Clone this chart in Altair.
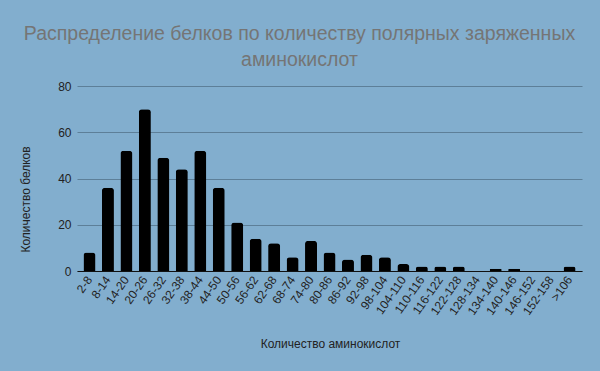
import altair as alt
import pandas as pd

categories = ["2-8", "8-14", "14-20", "20-26", "26-32", "32-38", "38-44", "44-50",
              "50-56", "56-62", "62-68", "68-74", "74-80", "80-86", "86-92", "92-98",
              "98-104", "104-110", "110-116", "116-122", "122-128", "128-134",
              "134-140", "140-146", "146-152", "152-158", ">106"]
counts = [8, 36, 52, 70, 49, 44, 52, 36, 21, 14, 12, 6, 13, 8, 5, 7, 6, 3, 2, 2, 2, 0, 1, 1, 0, 0, 2]

df = pd.DataFrame({"cat": categories, "n": counts})

FONT = "Liberation Sans"
BG = "#82AECE"

chart = alt.Chart(df).mark_bar(
    color="#000000", cornerRadiusTopLeft=3, cornerRadiusTopRight=3
).encode(
    x=alt.X("cat:N", sort=categories,
            scale=alt.Scale(paddingInner=0.35, paddingOuter=0.35),
            axis=alt.Axis(title="Количество аминокислот", labelAngle=-55,
                          labelAlign="right", labelBaseline="middle",
                          labelPadding=6, labelFontSize=12, labelColor="#222222",
                          labelFont=FONT, ticks=False, domainColor="#111111",
                          domainWidth=1.2, grid=False,
                          titleFont=FONT, titleFontSize=12, titleFontWeight="normal",
                          titleColor="#222222", titleX=253, titleY=72,
                          titleAlign="center", titleBaseline="middle", labelOverlap=False)),
    y=alt.Y("n:Q", scale=alt.Scale(domain=[0, 80], nice=False),
            axis=alt.Axis(title="Количество белков", values=[0, 20, 40, 60, 80],
                          labelFontSize=12, labelColor="#222222", labelFont=FONT,
                          labelPadding=6, ticks=False, domain=False,
                          gridColor="#5D7F98", gridWidth=1,
                          titleFont=FONT, titleFontSize=12, titleFontWeight="normal",
                          titleColor="#222222", titleAngle=-90, titleX=-52, titleY=113,
                          titleAlign="center", titleBaseline="middle")),
).properties(
    width=505, height=185,
    background=BG,
    padding={"left": 77, "top": 86, "right": 18, "bottom": 100},
    autosize=alt.AutoSizeParams(type="none"),
    title=alt.TitleParams(
        text=["Распределение белков по количеству полярных заряженных", "аминокислот"],
        font=FONT, fontSize=19.5, fontWeight="normal", color="#757575",
        anchor="middle", dx=-30, lineHeight=26, offset=10),
).configure_view(stroke=None)

chart.save("out.html", embed_options={"renderer": "svg", "actions": False})
